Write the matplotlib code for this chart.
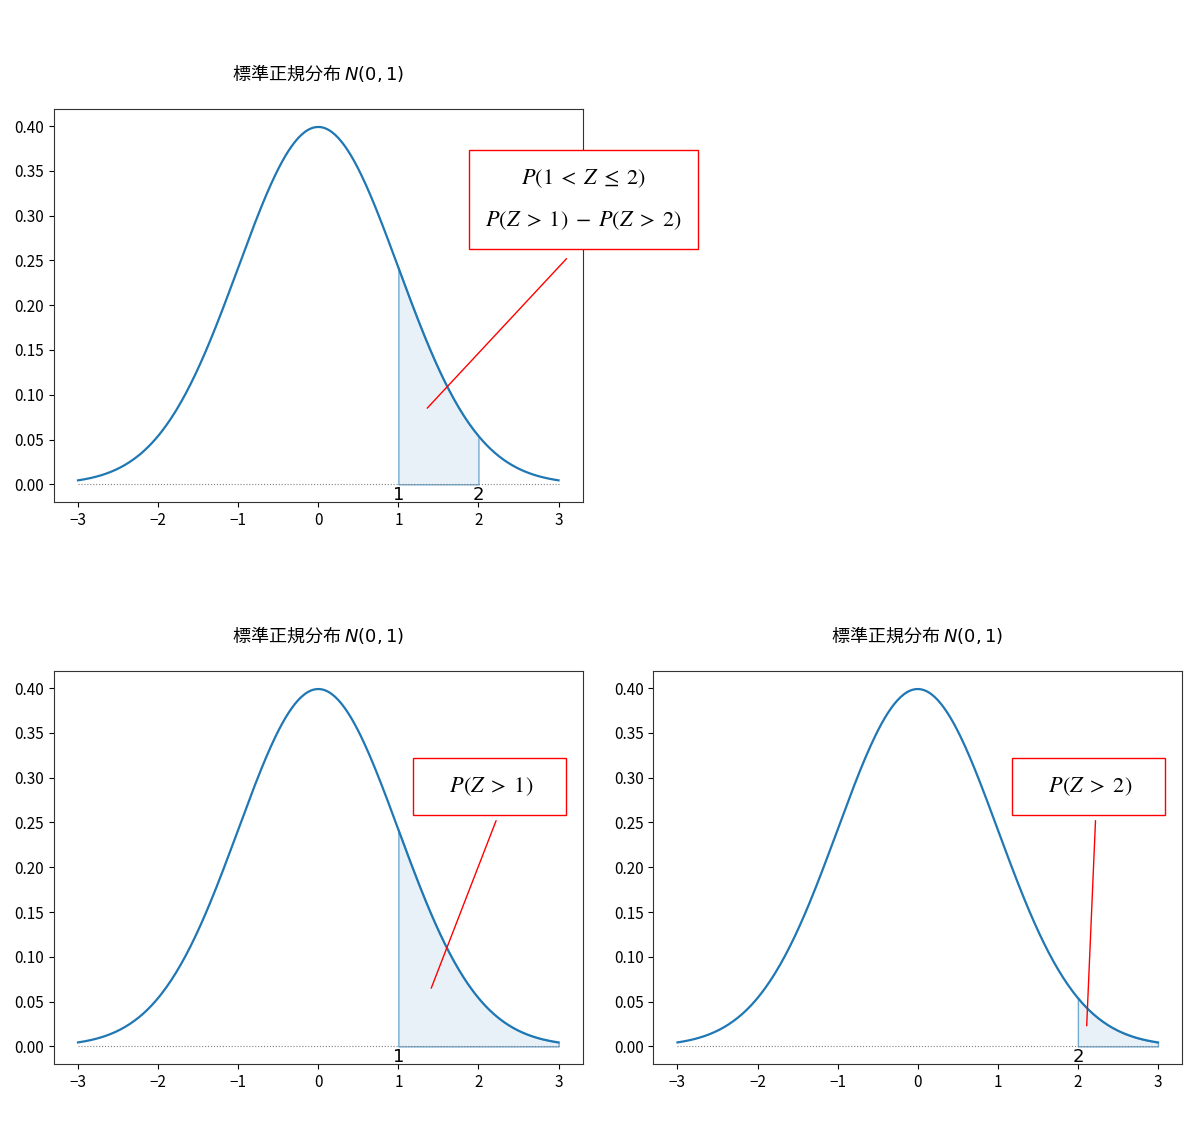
import numpy as np
import matplotlib.pyplot as plt

plt.rcParams['font.family'] = ['Noto Sans CJK JP', 'DejaVu Sans']
plt.rcParams['axes.unicode_minus'] = True

# distribution shown in every panel
MU, SIGMA = 0.0, 1.0
X_MIN, X_MAX = -3.0, 3.0
N_POINTS = 300

TITLE = "標準正規分布 $N(0,1)$"

# one entry per drawn panel (row, col)
SLOTS = [(0, 0), (1, 0), (1, 1)]
SHADE_FROM = [1, 1, 2]
SHADE_TO = [2, 3, 3]
MARKS = [[1, 2], [1], [2]]
SIDE_GAP = "    "
BOX_TEXT = [
    "$P(1\\;<\\;Z\\;\\leq\\;2)$\n$P(Z\\;>\\;1)\\;-\\;P(Z\\;>\\;2)$",
    f"{SIDE_GAP}$P(Z\\;>\\;1)${SIDE_GAP}",
    f"{SIDE_GAP}$P(Z\\;>\\;2)${SIDE_GAP}",
]
BOX_XY = [(3.31, 0.318), (2.14, 0.29), (2.13, 0.29)]
LINE_FROM = [(3.1, 0.252), (2.22, 0.252), (2.22, 0.252)]
LINE_TO = [(1.36, 0.085), (1.41, 0.065), (2.11, 0.023)]


def pdf(x):
    return np.exp(-0.5 * ((x - MU) / SIGMA) ** 2) / (SIGMA * np.sqrt(2 * np.pi))


x = np.linspace(X_MIN, X_MAX, N_POINTS)
y = pdf(x)

fig, axes = plt.subplots(2, 2, figsize=(12, 11.25), dpi=100)
fig.subplots_adjust(left=0.045, right=0.985, top=0.903, bottom=0.054,
                    wspace=0.134, hspace=0.43)
axes[0, 1].remove()

for i, (r, c) in enumerate(SLOTS):
    ax = axes[r, c]
    ax.plot(x, y, color="C0", linewidth=1.6)
    ax.plot([X_MIN, X_MAX], [0, 0], color="gray", linestyle=":", linewidth=0.8)

    xs = np.linspace(SHADE_FROM[i], SHADE_TO[i], 100)
    ax.fill_between(xs, pdf(xs), facecolor=(0.12, 0.47, 0.71, 0.1),
                    edgecolor=(0.12, 0.47, 0.71, 0.6), linewidth=1.0)

    for m in MARKS[i]:
        ax.text(m, -0.002, str(m), ha="center", va="top", fontsize=13,
                family="DejaVu Sans")

    ax.text(*BOX_XY[i], BOX_TEXT[i], ha="center", va="center", fontsize=16,
            math_fontfamily="stix", linespacing=2.0,
            bbox=dict(boxstyle="square,pad=0.75", facecolor="white",
                      edgecolor="red", linewidth=1.0))
    ax.annotate("", xy=LINE_TO[i], xytext=LINE_FROM[i],
                arrowprops=dict(arrowstyle="-", color="red", linewidth=1.0,
                                shrinkA=0, shrinkB=0))

    ax.set_title(TITLE, fontsize=13, pad=21)
    ax.tick_params(labelsize=11)
    for spine in ax.spines.values():
        spine.set_color("0.2")

fig.savefig("out.png")
